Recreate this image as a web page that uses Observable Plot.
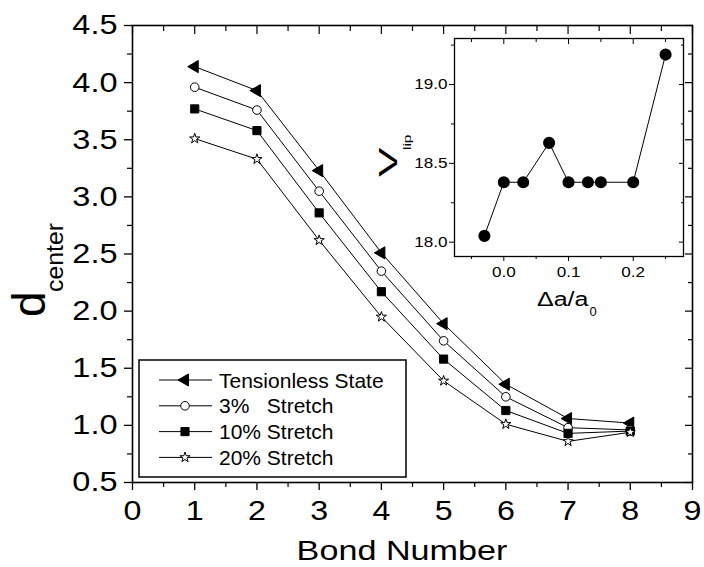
<!DOCTYPE html>
<html>
<head>
<meta charset="utf-8">
<script src="https://cdn.jsdelivr.net/npm/d3@7"></script>
<script src="https://cdn.jsdelivr.net/npm/@observablehq/plot@0.6"></script>
<style>
  body { margin: 0; background: #fff; }
  #fig { position: relative; width: 704px; height: 567px; font-family: "Liberation Sans", Arial, sans-serif; }
  #fig svg { position: absolute; overflow: visible; }
</style>
</head>
<body>
<div id="fig"></div>
<script>
// ---- main panel: distance from center vs. bond number ----
const bonds = [1, 2, 3, 4, 5, 6, 7, 8];
const seriesNames = ["Tensionless State", "3%   Stretch", "10% Stretch", "20% Stretch"];
const tensionless = [4.14, 3.93, 3.23, 2.51, 1.89, 1.36, 1.06, 1.02];
const stretch3 = [3.96, 3.76, 3.05, 2.35, 1.74, 1.25, 0.98, 0.96];
const stretch10 = [3.77, 3.58, 2.86, 2.17, 1.58, 1.13, 0.93, 0.95];
const stretch20 = [3.51, 3.33, 2.62, 1.95, 1.39, 1.01, 0.86, 0.94];
const xTicks = [0, 1, 2, 3, 4, 5, 6, 7, 8, 9];
const xMinorTicks = [0.5, 1.5, 2.5, 3.5, 4.5, 5.5, 6.5, 7.5, 8.5];
const yTicks = [0.5, 1.0, 1.5, 2.0, 2.5, 3.0, 3.5, 4.0, 4.5];
const yMinorTicks = [0.75, 1.25, 1.75, 2.25, 2.75, 3.25, 3.75, 4.25];

// ---- inset: V_lip vs. relative lattice change ----
const strain = [-0.03, 0.0, 0.03, 0.07, 0.10, 0.13, 0.15, 0.20, 0.25];
const vlip = [18.04, 18.38, 18.38, 18.63, 18.38, 18.38, 18.38, 18.38, 19.19];
const insetXTicks = [0.0, 0.1, 0.2];
const insetXMinor = [-0.05, 0.05, 0.15, 0.25];
const insetYTicks = [18.0, 18.5, 19.0];
const insetYMinor = [18.25, 18.75, 19.25];

const seriesValues = [tensionless, stretch3, stretch10, stretch20];
const styles = [
  {symbol: "triangle", rotate: -90, fill: "black", r: 4.5},
  {symbol: "circle", rotate: 0, fill: "white", r: 4.3},
  {symbol: "square", rotate: 0, fill: "black", r: 4.6},
  {symbol: "star", rotate: 0, fill: "white", r: 3.2}
];
const rows = seriesNames.flatMap((name, i) =>
  bonds.map((b, j) => ({series: name, bond: b, d: seriesValues[i][j]})));

const font = "Liberation Sans, Arial, sans-serif";

// tick-only axes (no labels); on top/right the ticks are shifted into the frame
const tickX = (ticks, anchor, size, sw = 1.2) =>
  Plot.axisX(ticks, {anchor, tickSize: size, fill: "none", label: null, strokeWidth: sw,
    dy: anchor === "top" ? size : 0});
const tickY = (ticks, anchor, size, sw = 1.2) =>
  Plot.axisY(ticks, {anchor, tickSize: size, fill: "none", label: null, strokeWidth: sw,
    dx: anchor === "right" ? -size : 0});
// label-only axes
const labelX = (ticks, offset, size, fmt) =>
  Plot.axisX(ticks, {tickSize: 0, stroke: "none", tickPadding: offset, fontSize: size, label: null, tickFormat: fmt});
const labelY = (ticks, offset, size, fmt) =>
  Plot.axisY(ticks, {tickSize: 0, stroke: "none", tickPadding: offset, fontSize: size, label: null, tickFormat: fmt});

const main = Plot.plot({
  width: 704, height: 567,
  marginLeft: 132, marginRight: 12, marginTop: 25, marginBottom: 85,
  style: {fontFamily: font, color: "black", background: "transparent", overflow: "visible"},
  x: {domain: [0, 9]},
  y: {domain: [0.5, 4.5]},
  marks: [
    labelX(xTicks, 18, 28),
    labelY(yTicks, 15, 28, d3.format(".1f")),
    tickX(xTicks, "bottom", 8, 1.3),
    tickX(xMinorTicks, "bottom", 5),
    tickY(yTicks, "left", 8, 1.3),
    tickY(yMinorTicks, "left", 5),
    tickX(xTicks, "top", 8),
    tickX(xMinorTicks, "top", 5),
    tickY(yTicks, "right", 8),
    tickY(yMinorTicks, "right", 5),
    Plot.frame({stroke: "black", strokeWidth: 1.6}),
    Plot.line(rows, {x: "bond", y: "d", z: "series", stroke: "black", strokeWidth: 1}),
    ...seriesNames.map((name, i) =>
      Plot.dot(rows.filter(r => r.series === name), {
        x: "bond", y: "d",
        symbol: styles[i].symbol, rotate: styles[i].rotate,
        r: styles[i].r, fill: styles[i].fill, stroke: "black", strokeWidth: 1
      }))
  ]
});

const insetRows = strain.map((s, i) => ({s, v: vlip[i]}));
const inset = Plot.plot({
  width: 320, height: 300,
  marginLeft: 74, marginRight: 17, marginTop: 18, marginBottom: 64,
  style: {fontFamily: font, color: "black", background: "transparent", overflow: "visible"},
  x: {domain: [-0.0762, 0.2777]},
  y: {domain: [17.909, 19.292]},
  marks: [
    labelX(insetXTicks, 10, 15, d3.format(".1f")),
    labelY(insetYTicks, 7, 15, d3.format(".1f")),
    tickX(insetXTicks, "bottom", 5, 1),
    tickX(insetXMinor, "bottom", 3, 1),
    tickY(insetYTicks, "left", 5, 1),
    tickY(insetYMinor, "left", 3, 1),
    tickX(insetXTicks, "top", 5, 1),
    tickX(insetXMinor, "top", 3, 1),
    tickY(insetYTicks, "right", 5, 1),
    tickY(insetYMinor, "right", 3, 1),
    Plot.frame({stroke: "black", strokeWidth: 1.3}),
    Plot.line(insetRows, {x: "s", y: "v", stroke: "black", strokeWidth: 1}),
    Plot.dot(insetRows, {x: "s", y: "v", r: 5.3, fill: "black", stroke: "black"})
  ]
});

const fig = document.getElementById("fig");
main.style.left = "0px"; main.style.top = "0px";
inset.style.left = "380px"; inset.style.top = "20px";
fig.appendChild(main);
fig.appendChild(inset);

// widen glyphs horizontally to the figure's lettering
function widen(nodes, k) {
  nodes.forEach(t => {
    const w = t.getComputedTextLength();
    t.setAttribute("textLength", (w * k).toFixed(2));
    t.setAttribute("lengthAdjust", "spacingAndGlyphs");
  });
}

const ms = d3.select(main);
// axis titles
const bn = ms.append("text").attr("x", 402).attr("y", 560).attr("text-anchor", "middle")
  .attr("font-size", 28).attr("fill", "black").text("Bond Number");
ms.append("text").attr("transform", "translate(45,317) rotate(-90)").attr("text-anchor", "start")
  .attr("font-size", 46).attr("fill", "black").text("d");
const ctr = ms.append("text").attr("transform", "translate(63,292) rotate(-90)").attr("text-anchor", "start")
  .attr("font-size", 23).attr("fill", "black").text("center");

// legend
const lg = ms.append("g").attr("text-anchor", "start");
lg.append("rect").attr("x", 139).attr("y", 360).attr("width", 267).attr("height", 117)
  .attr("fill", "white").attr("stroke", "black").attr("stroke-width", 1.5);
const symbolTypes = {triangle: d3.symbolTriangle, circle: d3.symbolCircle, square: d3.symbolSquare, star: d3.symbolStar};
seriesNames.forEach((name, i) => {
  const y = 380 + i * 25.8;
  const s = styles[i];
  lg.append("line").attr("x1", 159).attr("x2", 212).attr("y1", y).attr("y2", y)
    .attr("stroke", "black").attr("stroke-width", 1);
  lg.append("path").attr("d", d3.symbol(symbolTypes[s.symbol], Math.PI * s.r * s.r)())
    .attr("transform", `translate(185,${y}) rotate(${s.rotate})`)
    .attr("fill", s.fill).attr("stroke", "black").attr("stroke-width", 1);
  lg.append("text").attr("x", 219).attr("y", y).attr("dy", "0.36em")
    .attr("font-size", 21).attr("fill", "black")
    .style("white-space", "pre").text(name);
});

const is = d3.select(inset);
const vl = is.append("text").attr("transform", "translate(17,157) rotate(-90)").attr("text-anchor", "start")
  .attr("font-size", 26).attr("fill", "black").text("V");
const ll = is.append("text").attr("transform", "translate(31,130) rotate(-90)").attr("text-anchor", "start")
  .attr("font-size", 11).attr("fill", "black").text("lip");
const xl = is.append("text").attr("x", 157).attr("y", 286).attr("text-anchor", "start")
  .attr("font-size", 20).attr("fill", "black").text("\u0394a/a");
const x0 = is.append("text").attr("x", 209).attr("y", 296).attr("text-anchor", "start")
  .attr("font-size", 13).attr("fill", "black").text("0");

widen(main.querySelectorAll('g[aria-label="x-axis tick label"] text'), 1.15);
widen(main.querySelectorAll('g[aria-label="y-axis tick label"] text'), 1.16);
widen(inset.querySelectorAll('g[aria-label="x-axis tick label"] text'), 1.14);
widen(inset.querySelectorAll('g[aria-label="y-axis tick label"] text'), 1.14);
widen([bn.node()], 1.22);
widen([ctr.node()], 1.08);
widen([vl.node()], 1.7);
widen([ll.node()], 1.4);
const xw = xl.node().getComputedTextLength();
widen([xl.node()], 1.25);
// subscript sits right after the widened "Δa/a"
x0.attr("x", 157 + xw * 1.25 + 1);
</script>
</body>
</html>
